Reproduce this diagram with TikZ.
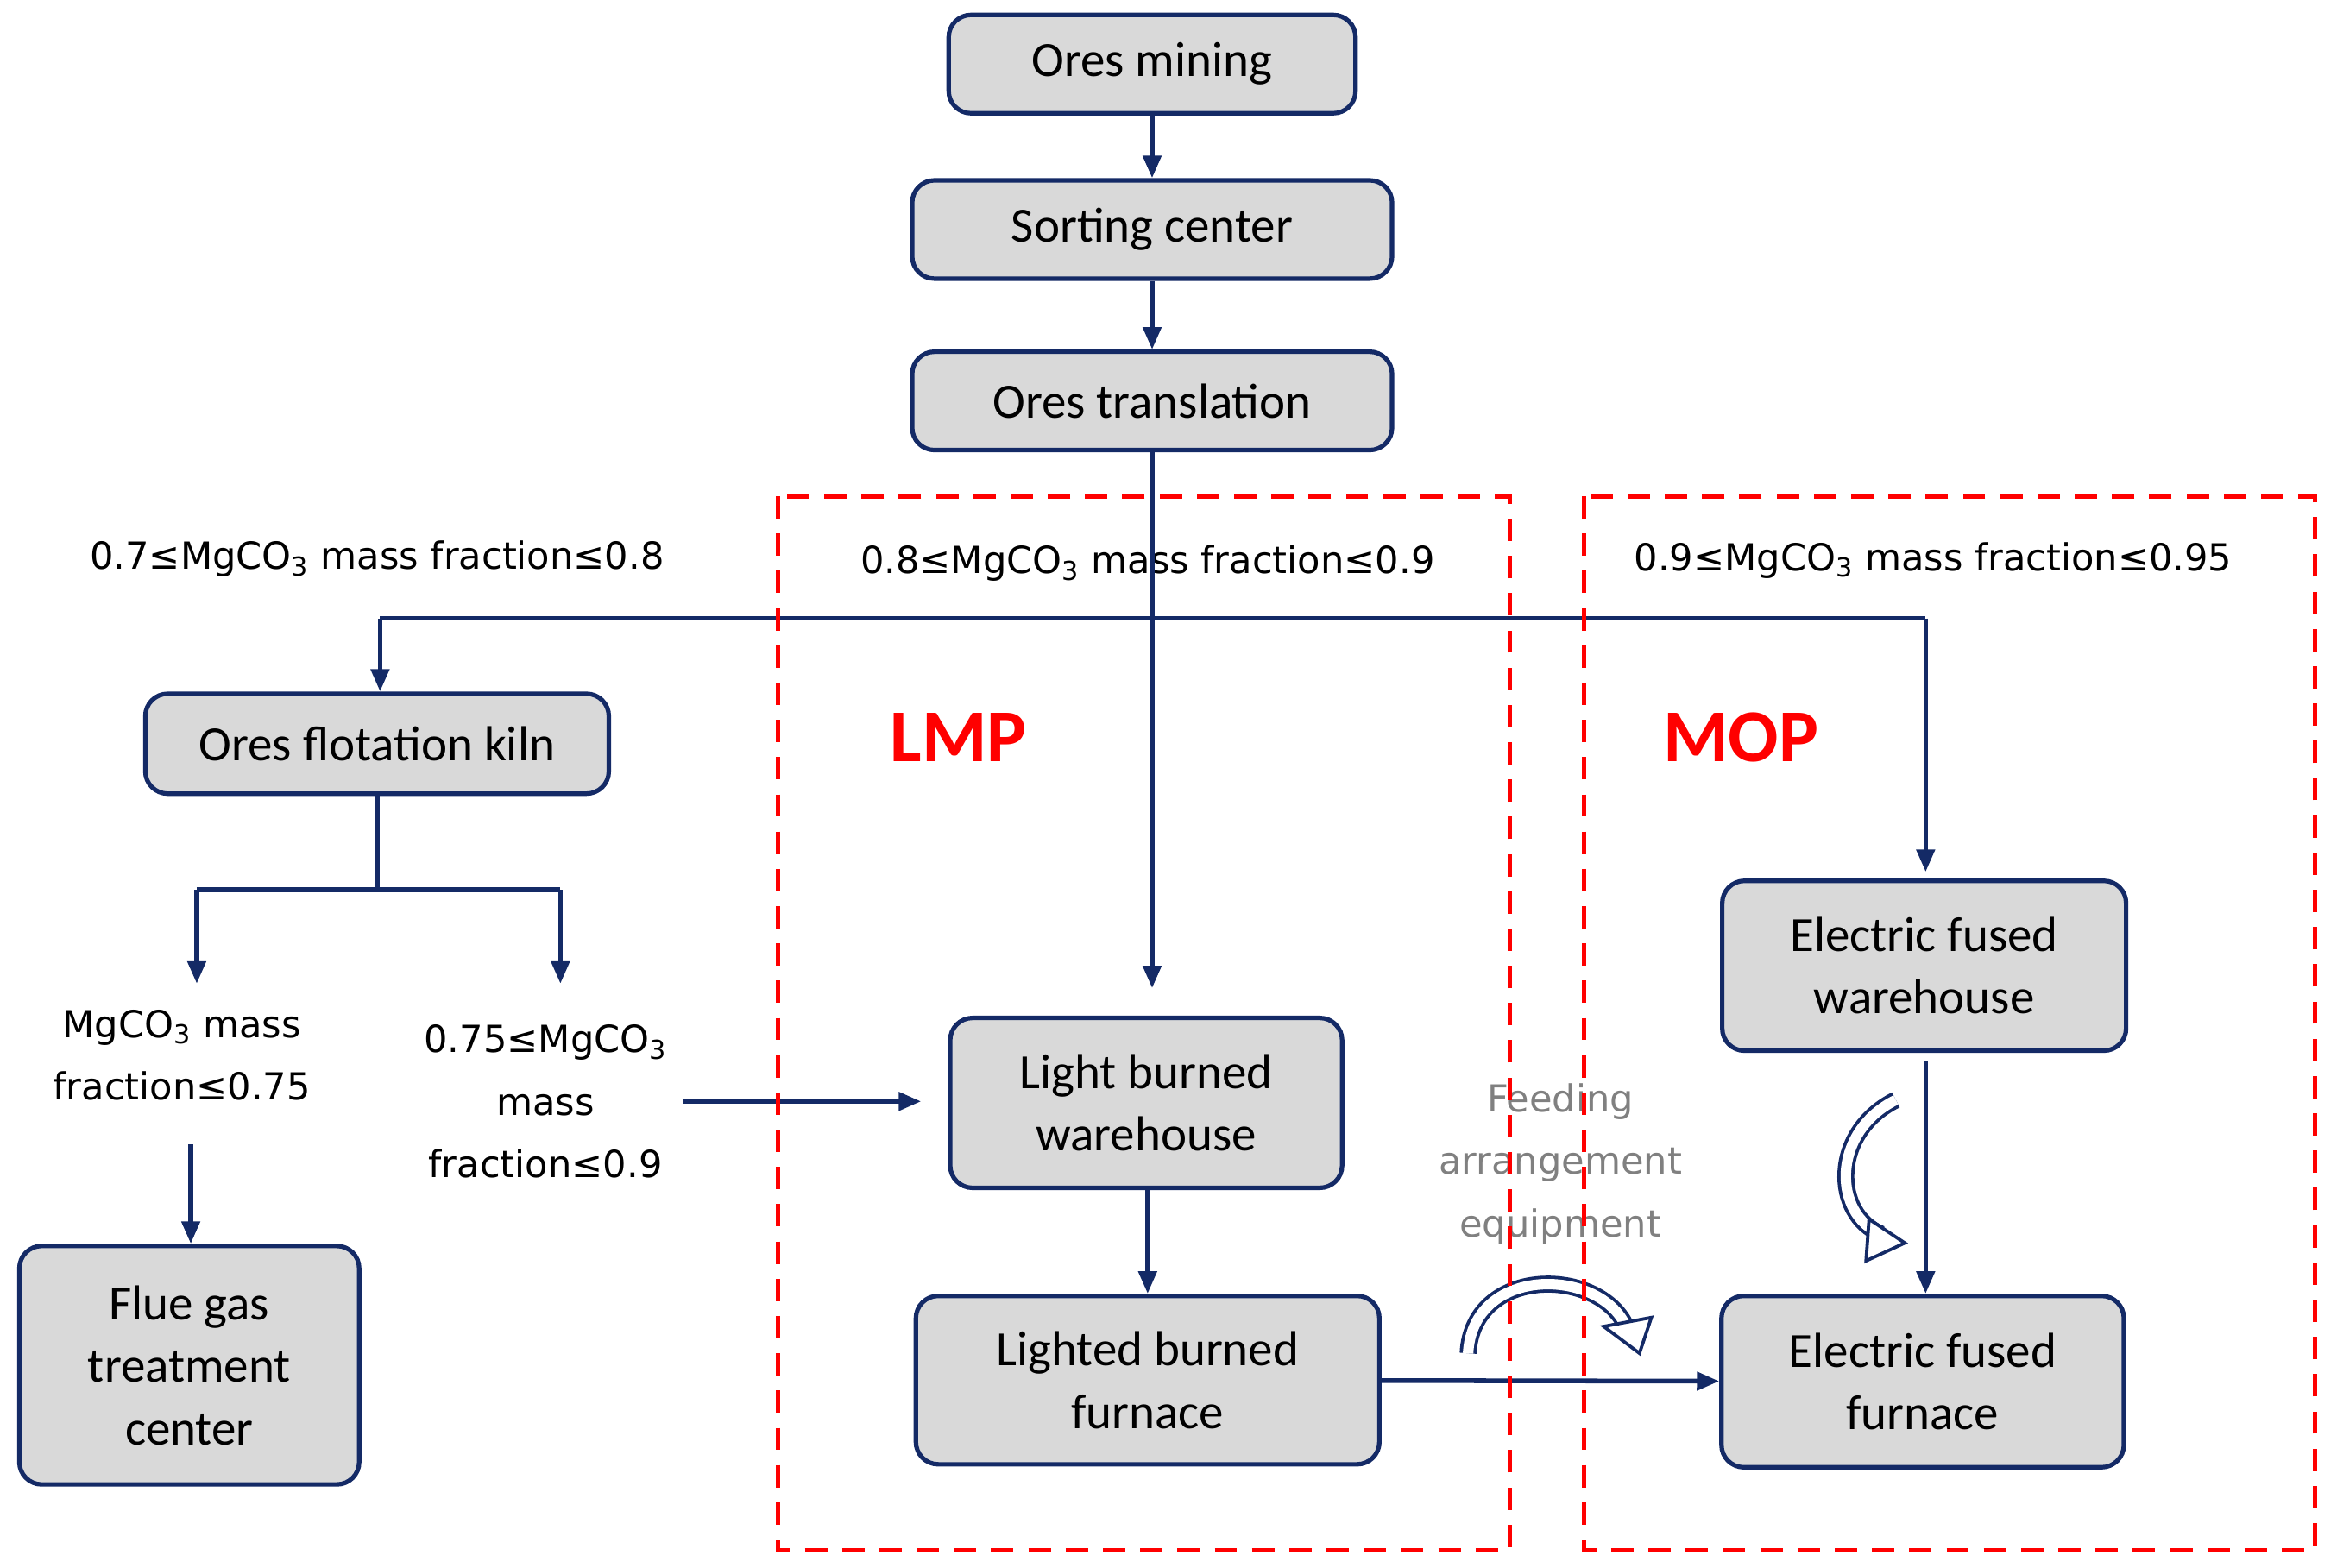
\documentclass[tikz,border=0pt]{standalone}
\usepackage{fontspec}
\setmainfont{Carlito}
\newfontfamily\labfont{DejaVu Sans}
\usetikzlibrary{arrows.meta}
\definecolor{nv}{HTML}{142A66}
\definecolor{bx}{HTML}{D9D9D9}
\begin{document}
\begin{tikzpicture}[x=1pt,y=-1pt,
  box/.style={draw=nv,fill=bx,line width=3pt,rounded corners=15pt,align=center,font=\fontsize{33}{42}\selectfont,inner sep=0pt},
  ar/.style={draw=nv,line width=3.2pt,-{Triangle[length=15pt,width=12pt]}},
  ln/.style={draw=nv,line width=3.2pt},
  lab/.style={font=\labfont\fontsize{25}{42}\selectfont,align=center,inner sep=0pt},
  big/.style={text=red,font=\fontsize{50}{56}\selectfont\bfseries},
  rdash/.style={draw=red,line width=2.8pt,dash pattern=on 15pt off 10pt},
  hol/.style={draw=nv,double=white,double distance=7pt,line width=2.2pt}]
\useasboundingbox (0,0) rectangle (1568,1052);
\node[box,minimum width=273pt,minimum height=66pt] (om) at (773,43) {Ores mining};
\node[box,minimum width=322pt,minimum height=66pt] (sc) at (773,154) {Sorting center};
\node[box,minimum width=322pt,minimum height=66pt] (ot) at (773,269) {Ores translation};
\node[box,minimum width=311pt,minimum height=67pt] (fk) at (253,499) {Ores flotation kiln};
\node[box,minimum width=228pt,minimum height=160pt] (fg) at (127,916) {Flue gas\\treatment\\center};
\node[box,minimum width=263pt,minimum height=114pt] (lw) at (769,740) {Light burned\\warehouse};
\node[box,minimum width=311pt,minimum height=113pt] (lf) at (770,926) {Lighted burned\\furnace};
\node[box,minimum width=271pt,minimum height=114pt] (ew) at (1291,648) {Electric fused\\warehouse};
\node[box,minimum width=270pt,minimum height=115pt] (ef) at (1290,927) {Electric fused\\furnace};
\node[lab] (l1) at (253,375) {0.7≤MgCO\textsubscript{3} mass fraction≤0.8};
\node[lab] (l2) at (770,378) {0.8≤MgCO\textsubscript{3} mass fraction≤0.9};
\node[lab] (l3) at (1297,376) {0.9≤MgCO\textsubscript{3} mass fraction≤0.95};
\node[lab] (t1) at (122,708) {MgCO\textsubscript{3} mass\\fraction≤0.75};
\node[lab] (t2) at (366,739) {0.75≤MgCO\textsubscript{3}\\mass\\fraction≤0.9};
\node[lab,text=gray] (fe) at (1047,781) {Feeding\\arrangement\\equipment};
\node[big] (lmp) at (643,495) {LMP};
\node[big] (mop) at (1168,495) {MOP};
\coordinate (j0) at (773,415);
\coordinate (jl) at (255,415);
\coordinate (jr) at (1292,415);
\coordinate (k0) at (253,597);
\coordinate (kl) at (132,597);
\coordinate (kr) at (376,597);
\draw[ar] (om) -- (sc);
\draw[ar] (sc) -- (ot);
\draw[ln] (ot.south) -- (j0);
\draw[ln] (jl) -- (jr);
\draw[ar] (jl) -- (fk.north -| jl);
\draw[ar] (j0) -- (773,663);
\draw[ar] (jr) -- (1292,585);
\draw[ln] (fk.south) -- (k0);
\draw[ln] (kl) -- (kr);
\draw[ar] (kl) -- (132,660);
\draw[ar] (kr) -- (376,660);
\draw[ar] (128,768) -- (fg.north -| 128,0);
\draw[ar] (458,739) -- (618,739);
\draw[ar] (lw.south -| 770,0) -- (lf.north -| 770,0);
\draw[ar] (lf) -- (ef);
\draw[ar] (1292,712) -- (ef.north -| 1292,0);
\draw[hol] (985,908) .. controls (988,850) and (1070,850) .. (1090,888);
\draw[draw=nv,fill=white,line width=2.2pt] (1076,890) -- (1108,884) -- (1100,908) -- cycle;
\draw[hol] (1272,738) .. controls (1228,760) and (1230,815) .. (1262,828);
\draw[draw=nv,fill=white,line width=2.2pt] (1254,818) -- (1278,834) -- (1252,846) -- cycle;
\draw[rdash] (522,333) rectangle (1013,1040);
\draw[rdash] (1063,333) rectangle (1553,1040);
\end{tikzpicture}
\end{document}
